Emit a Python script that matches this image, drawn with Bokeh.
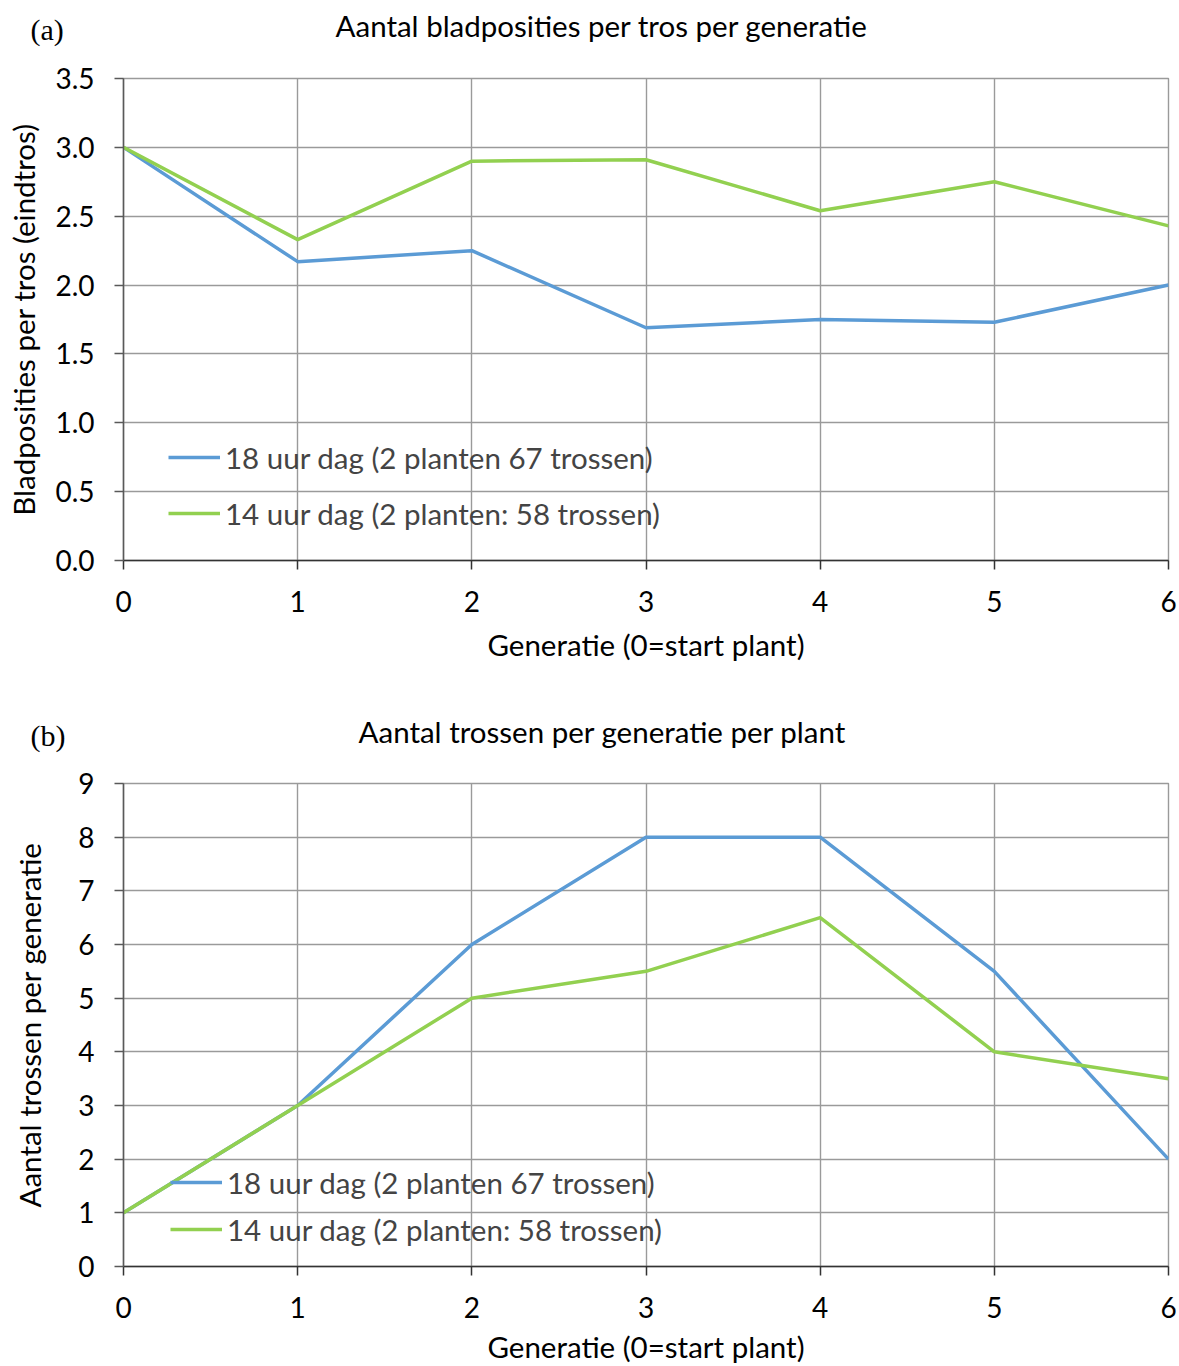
from bokeh.plotting import figure
from bokeh.models import (Range1d, FixedTicker, Legend, LegendItem,
                          CustomJSTickFormatter, Title)
from bokeh.layouts import column
from bokeh.embed import file_html
from bokeh.resources import INLINE

generaties = [0, 1, 2, 3, 4, 5, 6]
series_names = ["18 uur dag (2 planten 67 trossen)", "14 uur dag (2 planten: 58 trossen)"]

blad_18 = [3.0, 2.17, 2.25, 1.69, 1.75, 1.73, 2.0]
blad_14 = [3.0, 2.33, 2.90, 2.91, 2.54, 2.75, 2.43]

trossen_18 = [1, 3, 6, 8, 8, 5.5, 2]
trossen_14 = [1, 3, 5, 5.5, 6.5, 4, 3.5]

yticks_a = [0, 0.5, 1.0, 1.5, 2.0, 2.5, 3.0, 3.5]
yticks_b = [0, 1, 2, 3, 4, 5, 6, 7, 8, 9]

title_a = "Aantal bladposities per tros per generatie"
title_b = "Aantal trossen per generatie per plant"
ylabel_a = "Bladposities per tros (eindtros)"
ylabel_b = "Aantal trossen per generatie"
xlabel = "Generatie (0=start plant)"

FONT = "Lato"
TICK_FS = "28px"
LAB_FS = "29.5px"
BLUE = "#5b9bd5"
GREEN = "#92d050"
GRID = "#9a9a9a"


def make_panel(tag, title, title_off, title_standoff, tag_standoff, ylabel, y18, y14,
               yticks, ymax, height, top, fh, ylab_standoff, xlab_standoff,
               leg_x, leg_y1, leg_y2, decimals, margin_top):
    p = figure(width=1179, height=height, output_backend="svg", toolbar_location=None,
               x_range=Range1d(0, 6), y_range=Range1d(0, ymax),
               min_border_left=123, min_border_right=11, min_border_top=top,
               min_border_bottom=height - top - fh, margin=(margin_top, 0, 0, 0))
    p.title.visible = False
    r1 = p.line(generaties, y18, line_color=BLUE, line_width=3.5)
    r2 = p.line(generaties, y14, line_color=GREEN, line_width=3.5)

    p.xaxis.ticker = FixedTicker(ticks=generaties)
    p.yaxis.ticker = FixedTicker(ticks=yticks)
    if decimals:
        p.yaxis.formatter = CustomJSTickFormatter(code="return tick.toFixed(1);")
    for ax in (p.xaxis[0], p.yaxis[0]):
        ax.major_label_text_font = FONT
        ax.major_label_text_font_size = TICK_FS
        ax.major_label_text_color = "black"
        ax.axis_label_text_font = FONT
        ax.axis_label_text_font_size = LAB_FS
        ax.axis_label_text_font_style = "normal"
        ax.axis_label_text_color = "black"
        ax.major_tick_out = 9
        ax.major_tick_in = 0
        ax.minor_tick_out = 0
        ax.minor_tick_in = 0
        ax.axis_line_width = 1.5
        ax.major_tick_line_width = 1.5
    p.yaxis.axis_line_color = "#595959"
    p.yaxis.major_tick_line_color = "#595959"
    p.xaxis.axis_line_color = "#333333"
    p.xaxis.major_tick_line_color = "#333333"
    p.xaxis.axis_label = xlabel
    p.yaxis.axis_label = ylabel
    p.xaxis.major_label_standoff = 21
    p.xaxis.axis_label_standoff = xlab_standoff
    p.yaxis.major_label_standoff = 20
    p.yaxis.axis_label_standoff = ylab_standoff

    p.xgrid.grid_line_color = GRID
    p.ygrid.grid_line_color = GRID
    p.xgrid.grid_line_width = 1.4
    p.ygrid.grid_line_width = 1.4
    p.outline_line_color = GRID
    p.outline_line_width = 1.4

    for r, name, ly in ((r1, series_names[0], leg_y1), (r2, series_names[1], leg_y2)):
        legend = Legend(items=[LegendItem(label=name, renderers=[r])],
                        location=(leg_x, ly - 18), padding=0, margin=0, spacing=0,
                        glyph_width=52, glyph_height=36, label_height=36, label_standoff=5,
                        label_text_font=FONT, label_text_font_size=LAB_FS,
                        background_fill_alpha=0, border_line_color=None)
        p.add_layout(legend, "center")

    main = Title(text=title, align="left", offset=title_off, standoff=title_standoff,
                 text_font=FONT, text_font_size=LAB_FS, text_font_style="normal",
                 text_color="black")
    p.add_layout(main, "above")
    p.add_layout(Title(text=tag, align="left", offset=-93, standoff=tag_standoff,
                       text_font="Liberation Serif", text_font_size="30px",
                       text_font_style="normal", text_color="black"), "above")
    return p


pa = make_panel("(a)", title_a, 212, 71, -150, ylabel_a, blad_18, blad_14, yticks_a, 3.5,
                707, 108, 482, 11, 12, 45, 103, 47, True, -30)
pb = make_panel("(b)", title_b, 235, 69, -148, ylabel_b, trossen_18, trossen_14, yticks_b, 9,
                689, 106, 483, 28, 8, 47, 84, 37, False, 0)

layout = column(pa, pb, spacing=0)
open("out.html", "w").write(file_html(layout, INLINE))
